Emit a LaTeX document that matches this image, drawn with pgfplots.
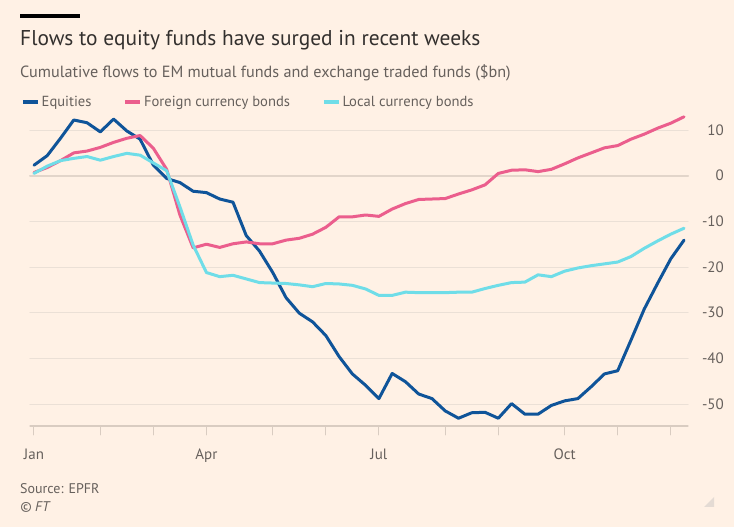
\documentclass[border=0pt]{standalone}
\usepackage{pgfplots}
\usepackage{pgfplotstable}
\pgfplotsset{compat=1.18}
\usepackage{fontspec}
\setmainfont{PT Sans}
\definecolor{ftbg}{HTML}{FFF1E5}
\definecolor{ftblue}{HTML}{0F5499}
\definecolor{ftpink}{HTML}{EB5E8D}
\definecolor{ftcyan}{HTML}{6FDDE8}
\definecolor{fttext}{HTML}{33302E}
\definecolor{ftgray}{HTML}{66605C}
\definecolor{ftgrid}{HTML}{EBE0D6}
\definecolor{ftzero}{HTML}{E2D5CA}
\definecolor{ftaxis}{HTML}{D9CCC1}

\pgfplotstableread{
i eq fx lc
0 2.3 0.7 0.5
1 4.4 1.8 2.1
2 8.2 3.3 3.3
3 12.2 5.0 3.8
4 11.6 5.4 4.2
5 9.6 6.2 3.4
6 12.4 7.3 4.2
7 9.8 8.2 4.9
8 8.0 8.8 4.5
9 2.3 6.0 2.8
10 -0.6 1.4 1.1
11 -1.5 -8.6 -6.8
12 -3.4 -15.8 -15.2
13 -3.7 -15.0 -21.2
14 -5.1 -15.7 -22.1
15 -5.8 -14.9 -21.8
16 -13.1 -14.5 -22.6
17 -16.5 -14.9 -23.4
18 -21.2 -14.9 -23.5
19 -26.7 -14.1 -23.6
20 -30.1 -13.7 -23.9
21 -32.0 -12.8 -24.3
22 -35.0 -11.3 -23.6
23 -39.6 -9.0 -23.7
24 -43.4 -9.0 -24.0
25 -45.9 -8.6 -24.8
26 -48.8 -8.9 -26.2
27 -43.3 -7.3 -26.2
28 -45.1 -6.1 -25.5
29 -47.8 -5.2 -25.6
30 -48.8 -5.1 -25.6
31 -51.5 -5.0 -25.6
32 -53.1 -4.0 -25.5
33 -51.9 -3.1 -25.5
34 -51.8 -2.0 -24.7
35 -53.1 0.5 -24.0
36 -49.9 1.2 -23.4
37 -52.2 1.3 -23.3
38 -52.2 0.9 -21.7
39 -50.3 1.4 -22.1
40 -49.3 2.6 -20.9
41 -48.8 3.9 -20.2
42 -46.2 5.0 -19.7
43 -43.4 6.1 -19.3
44 -42.7 6.6 -18.9
45 -36.0 8.0 -17.7
46 -29.2 9.1 -15.9
47 -23.6 10.4 -14.3
48 -18.2 11.5 -12.8
49 -14.1 12.9 -11.5
}\flows

\begin{document}
\begin{tikzpicture}[x=1bp,y=1bp]
\useasboundingbox (0,0) rectangle (734,527);
\fill[ftbg] (0,0) rectangle (734,527);
\fill[black] (20,509) rectangle (80,513);
\node[anchor=base west, inner sep=0, text=fttext, font=\fontsize{21.4bp}{25bp}\selectfont] at (20,481) {Flows to equity funds have surged in recent weeks};
\node[anchor=base west, inner sep=0, text=ftgray, font=\fontsize{16.2bp}{18bp}\selectfont] at (20,449) {Cumulative flows to EM mutual funds and exchange traded funds (\$bn)};
\node[anchor=base west, inner sep=0, text=ftgray, font=\fontsize{14bp}{16bp}\selectfont] at (20,33) {Source: EPFR};
\node[anchor=base west, inner sep=0, text=ftgray, font=\fontsize{14bp}{16bp}\selectfont\itshape] at (20,15) {\textcopyright\ FT};
\fill[ftaxis!70] (704,20) -- (714,20) -- (714,30) -- cycle;
\begin{axis}[
  at={(30bp,101bp)}, anchor=south west,
  scale only axis, width=658bp, height=314.2bp,
  xmin=-0.3, xmax=49.3, ymin=-54.8, ymax=14,
  axis x line*=bottom, axis y line*=right,
  x axis line style={-, draw=ftaxis, line width=1.2bp},
  y axis line style={draw=none},
  xtick={0,13,26,40}, xticklabels={Jan,Apr,Jul,Oct},
  minor xtick={5,9,18,22,31,35,44,48},
  tick align=outside,
  major tick length=9bp, minor tick length=9bp,
  xtick style={draw=ftaxis, line width=1bp},
  ytick style={draw=none},
  ytick={-50,-40,-30,-20,-10,0,10},
  ymajorgrids, grid style={draw=ftgrid, line width=1.1bp},
  extra y ticks={0}, extra y tick labels={},
  extra y tick style={grid style={draw=ftzero, line width=2bp}},
  /pgf/number format/assume math mode=true,
  ticklabel style={text=ftgray, font=\fontsize{15bp}{18bp}\selectfont},
  yticklabel style={anchor=east, inner sep=0pt, xshift=27bp},
  xticklabel style={anchor=north, inner sep=0pt, yshift=-14bp},
  legend style={at={(-0.0137,1.031)}, anchor=west, draw=none, fill=none,
    inner sep=0pt, legend columns=3, text=ftgray,
    font=\fontsize{14.6bp}{16bp}\selectfont,
    /tikz/every even column/.append style={column sep=30bp}},
  legend image code/.code={\draw[line width=3.5bp] (0bp,0bp) -- (15bp,0bp);},
  line join=round, line cap=round,
]
\addplot[ftblue, line width=3bp] table[x=i, y=eq] {\flows};
\addlegendentry{Equities}
\addplot[ftpink, line width=3bp] table[x=i, y=fx] {\flows};
\addlegendentry{Foreign currency bonds}
\addplot[ftcyan, line width=3bp] table[x=i, y=lc] {\flows};
\addlegendentry{Local currency bonds}
\end{axis}
\end{tikzpicture}
\end{document}
